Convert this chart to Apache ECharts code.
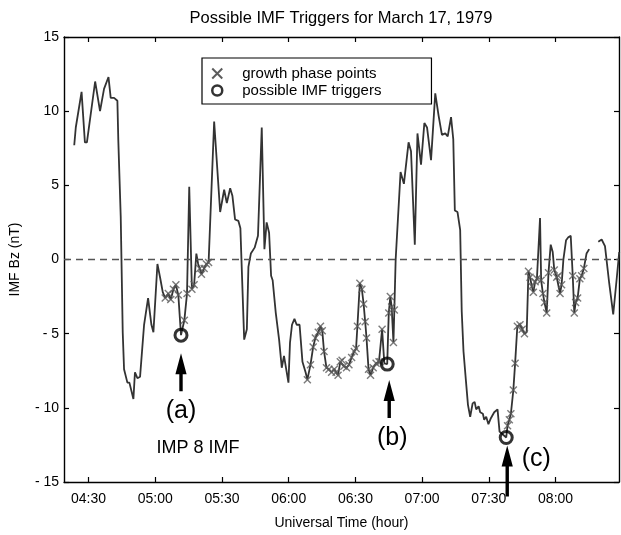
<!DOCTYPE html>
<html>
<head>
<meta charset="utf-8">
<title>Possible IMF Triggers for March 17, 1979</title>
<script src="https://cdn.jsdelivr.net/npm/echarts@6/dist/echarts.min.js"></script>
<style>
  html, body { margin: 0; padding: 0; background: #fff; }
  #main { width: 621px; height: 535px; }
</style>
</head>
<body>
<div id="main"></div>
<script>
// UT, minutes after 00:00
var times = [
  263.6, 264.3, 266.9, 268.4, 269.3, 273.0, 275.2, 277.0, 279.0, 280.0,
  281.5, 283.0, 283.4, 284.5, 285.4, 286.0, 287.5, 288.4, 290.2, 290.9,
  292.0, 293.2, 295.0, 296.8, 298.3, 299.2, 301.0, 302.3, 303.4, 304.5,
  305.9, 307.0, 308.2, 309.3, 310.4, 311.6, 313.1, 314.3, 315.3, 316.5,
  317.5, 318.5, 319.3, 320.0, 320.8, 322.0, 323.0, 324.0, 326.5, 329.2,
  331.0, 332.2, 333.7, 334.7, 335.9, 337.4, 338.3, 340.0, 341.2, 341.9,
  343.0, 344.7, 346.2, 347.9, 349.1, 350.1, 351.2, 352.1, 352.8, 354.2,
  355.7, 356.9, 357.9, 359.9, 360.6, 361.5, 362.6, 363.6, 364.9, 366.2,
  367.6, 368.4, 369.8, 371.0, 372.0, 373.3, 374.3, 375.1, 375.9, 377.0,
  378.1, 379.3, 380.5, 381.3, 382.2, 383.2, 384.0, 384.8, 386.0, 387.1,
  388.3, 389.5, 390.3, 390.9, 392.0, 392.9, 393.7, 394.4, 395.0, 395.9,
  396.8, 398.0, 399.3, 400.6, 401.2, 402.0, 403.0, 404.3, 405.0, 405.7,
  406.3, 407.1, 407.5, 408.1, 410.3, 411.8, 413.9, 415.0, 416.7, 417.9,
  419.5, 421.0, 422.2, 424.0, 425.9, 427.4, 428.9, 430.4, 431.5, 433.0,
  434.0, 434.7, 435.9, 437.1, 437.8, 438.6, 439.7, 440.6, 441.6, 442.7,
  443.6, 444.3, 445.4, 446.1, 447.3, 447.9, 448.8, 449.8, 450.9, 452.4,
  453.9, 454.8, 457.8, 458.4, 459.2, 459.9, 461.0, 461.8, 462.8, 464.0,
  465.0, 466.0, 467.0, 467.8, 468.5, 469.3, 470.0, 470.8, 471.6, 473.0,
  473.5, 474.3, 475.0, 476.0, 476.8, 477.8, 478.7, 479.4, 480.5, 481.2,
  482.0, 482.7, 483.5, 484.7, 485.7, 486.8, 487.7, 488.4, 489.0, 489.9,
  490.9, 491.7, 492.7, 493.9, 495.1, 497.0, 499.2, 500.7, 502.2, 504.1,
  505.9, 507.4, 508.6
];
// IMF Bz (nT), null = data gap
var bz = [
  7.7, 8.9, 11.3, 7.9, 7.9, 12.0, 10.0, 11.5, 12.3, 10.9,
  10.9, 10.7, 8.1, 2.9, -4.9, -7.4, -8.3, -8.3, -9.4, -7.6,
  -8.0, -7.9, -4.4, -2.6, -4.4, -4.9, -0.3, -1.3, -2.2, -2.6,
  -2.3, -2.7, -2.0, -1.7, -2.4, -5.1, -4.1, -2.3, 4.9, -2.0,
  -1.7, 0.4, -0.3, -0.6, -1.0, -0.6, -0.3, -0.2, 9.3, 3.2,
  4.7, 3.8, 4.8, 4.3, 2.7, 2.6, 2.1, -5.4, -4.7, -0.5,
  0.4, 0.8, 1.6, 8.9, 0.7, 2.5, 1.8, -1.1, -1.4, -3.6,
  -5.4, -7.3, -6.5, -8.3, -5.6, -4.4, -4.0, -4.4, -4.4, -6.9,
  -7.6, -8.1, -7.1, -5.9, -5.3, -4.9, -4.5, -4.8, -6.2, -7.3,
  -7.4, -7.6, -7.4, -7.6, -7.8, -6.9, -6.8, -7.2, -7.3, -7.1,
  -6.6, -6.2, -6.0, -4.5, -1.6, -2.0, -3.0, -4.2, -5.3, -7.4,
  -7.8, -7.3, -7.0, -6.9, -6.9, -4.7, -7.0, -7.05, -3.6, -2.5,
  -3.2, -5.6, -3.4, 0.0, 5.9, 5.1, 7.9, 7.3, 1.0, 8.5,
  6.4, 9.2, 8.9, 6.7, 11.2, 9.7, 8.4, 8.5, 8.3, 9.6,
  8.1, 3.3, 3.2, 2.0, -3.5, -6.2, -8.2, -9.8, -10.6, -9.7,
  -9.6, -10.1, -9.9, -10.3, -10.4, -10.8, -10.6, -11.1, -10.7, -10.3,
  -10.1, -11.6, -12.0, -11.2, -10.8, -10.4, -8.8, -7.0, -4.5, -4.4,
  -4.7, -5.0, -4.9, -0.8, -1.2, -1.8, -2.2, -1.5, -1.3, 2.8,
  -1.4, -2.3, -2.9, -3.6, -0.9, 1.0, 0.5, -0.7, -1.2, -1.1,
  -2.3, -1.7, 0.0, 1.3, 1.5, 1.6, -1.1, -3.6, -2.9, -2.6,
  -1.3, -1.1, -0.6, 0.4, 0.7, null, 1.2, 1.35, 0.9, -1.6,
  -3.7, -1.4, 0.5
];
// 1 = growth phase point
var growth = [
  0, 0, 0, 0, 0, 0, 0, 0, 0, 0,
  0, 0, 0, 0, 0, 0, 0, 0, 0, 0,
  0, 0, 0, 0, 0, 0, 0, 0, 0, 1,
  1, 1, 1, 1, 1, 0, 1, 1, 0, 1,
  1, 0, 0, 1, 1, 1, 1, 1, 0, 0,
  0, 0, 0, 0, 0, 0, 0, 0, 0, 0,
  0, 0, 0, 0, 0, 0, 0, 0, 0, 0,
  0, 0, 0, 0, 0, 0, 0, 0, 0, 0,
  0, 1, 1, 1, 1, 1, 1, 1, 1, 1,
  1, 1, 1, 1, 1, 1, 1, 1, 1, 1,
  1, 1, 1, 1, 1, 1, 1, 1, 1, 1,
  1, 1, 1, 1, 1, 1, 0, 0, 1, 1,
  1, 1, 1, 0, 0, 0, 0, 0, 0, 0,
  0, 0, 0, 0, 0, 0, 0, 0, 0, 0,
  0, 0, 0, 0, 0, 0, 0, 0, 0, 0,
  0, 0, 0, 0, 0, 0, 0, 0, 0, 0,
  0, 0, 0, 1, 1, 1, 1, 1, 1, 1,
  1, 1, 0, 1, 1, 1, 1, 1, 1, 0,
  1, 1, 1, 1, 1, 0, 0, 1, 1, 1,
  1, 1, 0, 0, 0, 0, 1, 1, 1, 1,
  1, 1, 1, 0, 0, 0, 0, 0, 0, 0,
  0, 0, 0
];
var triggerTimes = [311.6, 404.3, 457.8];
var triggerBz = [-5.1, -7.05, -12.0];
var triggerLabels = ['(a)', '(b)', '(c)'];
var tickTimes = [270, 300, 330, 360, 390, 420, 450, 480];

var FONT = 'Liberation Sans, Arial, sans-serif';

function hhmm(m) {
  var h = Math.floor(m / 60), mm = Math.round(m % 60);
  return (h < 10 ? '0' : '') + h + ':' + (mm < 10 ? '0' : '') + mm;
}

var lineData = times.map(function (t, i) { return [t, bz[i] === null ? '-' : bz[i]]; });
var growthData = [];
times.forEach(function (t, i) { if (growth[i]) growthData.push([t, bz[i]]); });
var triggerData = triggerTimes.map(function (t, i) { return [t, triggerBz[i]]; });

var X_SYMBOL = 'path://M0,0L10,10M10,0L0,10';

var chart = echarts.init(document.getElementById('main'));

var xBase = {
  type: 'value', min: 259, max: 508.5,
  axisLine: { onZero: false, lineStyle: { color: '#000', width: 1.4 } },
  axisTick: { inside: true, length: 5, customValues: tickTimes, lineStyle: { color: '#000', width: 1.2 } },
  splitLine: { show: false }
};
var yBase = {
  type: 'value', min: -15, max: 15, interval: 5,
  axisLine: { show: true, onZero: false, lineStyle: { color: '#000', width: 1.4 } },
  axisTick: { show: true, inside: true, length: 5, lineStyle: { color: '#000', width: 1.2 } },
  splitLine: { show: false }
};

chart.setOption({
  animation: false,
  backgroundColor: '#fff',
  textStyle: { fontFamily: FONT },
  title: {
    text: 'Possible IMF Triggers for March 17, 1979',
    left: 341, top: 10, padding: 0, textAlign: 'center',
    textStyle: { fontSize: 16.5, fontWeight: 'normal', color: '#000', fontFamily: FONT }
  },
  legend: {
    left: 202, top: 58,
    orient: 'vertical',
    selectedMode: false,
    padding: [8, 50, 6, 9],
    itemGap: 2,
    itemWidth: 10, itemHeight: 10,
    borderColor: '#000', borderWidth: 1.2,
    textStyle: { fontSize: 15, color: '#000', fontFamily: FONT, padding: [0, 0, 0, 15] },
    data: [
      { name: 'growth phase points', icon: X_SYMBOL,
        itemStyle: { color: 'transparent', borderColor: '#333', borderWidth: 2 } },
      { name: 'possible IMF triggers', icon: 'circle',
        itemStyle: { color: 'transparent', borderColor: '#000', borderWidth: 2.5 } }
    ]
  },
  grid: { left: 63, right: 2, top: 37, bottom: 53 },
  xAxis: [
    Object.assign({}, xBase, {
      position: 'bottom',
      name: 'Universal Time (hour)', nameLocation: 'middle', nameGap: 34,
      nameTextStyle: { fontSize: 14, color: '#000', fontFamily: FONT },
      axisLabel: { customValues: tickTimes, margin: 10, fontSize: 14, color: '#000', fontFamily: FONT, formatter: hhmm }
    }),
    Object.assign({}, xBase, { position: 'top', axisLabel: { show: false } })
  ],
  yAxis: [
    Object.assign({}, yBase, {
      position: 'left',
      name: 'IMF Bz (nT)', nameLocation: 'middle', nameGap: 42, nameRotate: 90,
      nameTextStyle: { fontSize: 14, color: '#000', fontFamily: FONT },
      axisLabel: {
        margin: 5, fontSize: 14, color: '#000', fontFamily: FONT,
        formatter: function (v) { return v < 0 ? '- ' + (-v) : String(v); }
      }
    }),
    Object.assign({}, yBase, { position: 'right', axisLabel: { show: false } })
  ],
  series: [
    {
      name: 'IMF Bz', type: 'line', data: lineData,
      symbol: 'none', connectNulls: false, silent: true,
      lineStyle: { color: '#333', width: 1.8 },
      markLine: {
        silent: true, symbol: 'none', label: { show: false },
        lineStyle: { color: '#555', width: 1.4, type: [7, 5] },
        data: [{ yAxis: 0 }]
      },
      z: 2
    },
    {
      name: 'growth phase points', type: 'scatter', data: growthData,
      symbol: X_SYMBOL, symbolSize: 7, silent: true,
      itemStyle: { color: 'transparent', borderColor: '#5a5a5a', borderWidth: 1.4 },
      z: 3
    },
    {
      name: 'possible IMF triggers', type: 'scatter', data: triggerData,
      symbol: 'circle', symbolSize: 12, silent: true,
      itemStyle: { color: 'transparent', borderColor: '#000', borderWidth: 3 },
      z: 4
    }
  ]
});

// arrows and labels under each trigger (pixel offsets from the trigger point)
var ann = [
  { dx: 0, tip: 18, len: 38, tx: 0, ty: 76 },
  { dx: 2, tip: 16, len: 38, tx: 5, ty: 74 },
  { dx: 1, tip: 8, len: 51, tx: 30, ty: 22 }
];
var graphics = [];
triggerData.forEach(function (p, i) {
  var px = chart.convertToPixel({ gridIndex: 0 }, p);
  var a = ann[i];
  var x = px[0] + a.dx, y = px[1] + a.tip;
  graphics.push({
    type: 'polygon', silent: true,
    shape: { points: [[x, y], [x - 5.6, y + 21], [x - 1.7, y + 21], [x - 1.7, y + a.len],
                      [x + 1.7, y + a.len], [x + 1.7, y + 21], [x + 5.6, y + 21]] },
    style: { fill: '#000' }, z: 10
  });
  graphics.push({
    type: 'text', silent: true, z: 10,
    style: {
      text: triggerLabels[i], x: px[0] + a.tx, y: px[1] + a.ty,
      font: '25px ' + FONT, fill: '#000',
      align: 'center', verticalAlign: 'middle', textAlign: 'center', textVerticalAlign: 'middle'
    }
  });
  if (i === 0) {
    graphics.push({
      type: 'text', silent: true, z: 10,
      style: {
        text: 'IMP 8 IMF', x: px[0] + 17, y: px[1] + 113,
        font: '18px ' + FONT, fill: '#000',
        align: 'center', verticalAlign: 'middle', textAlign: 'center', textVerticalAlign: 'middle'
      }
    });
  }
});
chart.setOption({ graphic: graphics });
</script>
</body>
</html>
